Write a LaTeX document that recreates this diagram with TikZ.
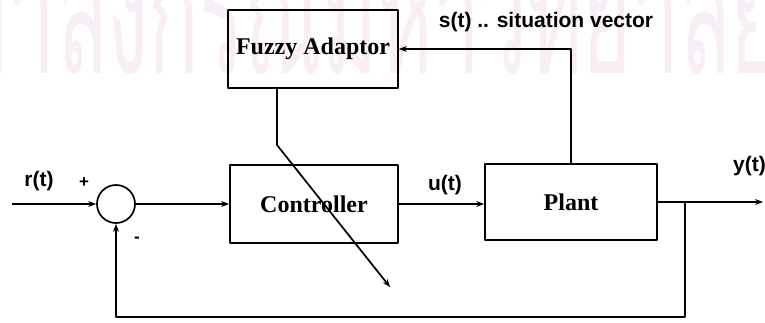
\documentclass[tikz,border=0pt]{standalone}
\usepackage{fontspec}
\setmainfont{Liberation Serif}
\newfontfamily\sigfont{Liberation Sans}
\newfontfamily\thaifont[Script=Thai]{Loma}
\usepackage{xcolor}
\usepackage{tikz}
\usetikzlibrary{arrows.meta,calc}
\definecolor{wmark}{RGB}{249,238,245}

\begin{document}
\begin{tikzpicture}[x=1pt, y=-1pt, >={Stealth[length=8pt,width=6pt]}, line join=round,
    blk/.style={draw, line width=1.7pt, rectangle, inner sep=0pt, font=\bfseries\fontsize{24}{24}\selectfont},
    sig/.style={font=\sigfont\bfseries\fontsize{21}{21}\selectfont, inner sep=0pt},
    wire/.style={line width=1.7pt}]
  \useasboundingbox (0,0) rectangle (765,322);
  \node[anchor=base east, inner sep=0pt, text=wmark, xscale=0.7, yscale=1.4,
        font=\thaifont\fontsize{120}{120}\selectfont] (wm) at (780,73) {จุฬาลงกรณ์มหาวิทยาลัย};
  \node[blk, minimum width=170pt, minimum height=78pt] (fuzzy) at (313,49) {Fuzzy Adaptor};
  \node[blk, minimum width=168pt, minimum height=78pt] (ctrl) at (314,204) {Controller};
  \node[blk, minimum width=172pt, minimum height=76pt] (plant) at (571,202) {Plant};
  \node[draw, line width=1.7pt, circle, minimum size=38pt, inner sep=0pt] (sum) at (116,204) {};
  \coordinate (in) at (12,204);
  \coordinate (yout) at (763,202);
  \coordinate (br) at (685,202);
  \coordinate (fb) at (685,317);
  \coordinate (kink) at (277,145);
  \coordinate (tip) at (390,287);
  \draw[wire,->] (in) -- (sum.west);
  \draw[wire,->] (sum.east) -- (ctrl.west);
  \draw[wire,->] (ctrl.east) -- (ctrl.east -| plant.west);
  \draw[wire,->] (plant.east |- yout) -- (yout);
  \draw[wire,->] (br) -- (fb) -| (sum.south);
  \draw[wire,->] (plant.north) |- (fuzzy.east);
  \draw[wire,->] (fuzzy.south -| kink) -- (kink) -- (tip);
  \node[sig] (rlab) at (39,181) {r(t)};
  \node[sig, font=\sigfont\bfseries\fontsize{17}{17}\selectfont] (plus) at (84,183) {+};
  \node[sig, font=\sigfont\bfseries\fontsize{17}{17}\selectfont] (minus) at (137,240) {-};
  \node[sig] (ulab) at (445,185) {u(t)};
  \node[sig, anchor=west] (ylab) at (733,166) {y(t)};
  \node[sig] (slab) at (546,22) {s(t) .. situation vector};
\end{tikzpicture}
\end{document}
